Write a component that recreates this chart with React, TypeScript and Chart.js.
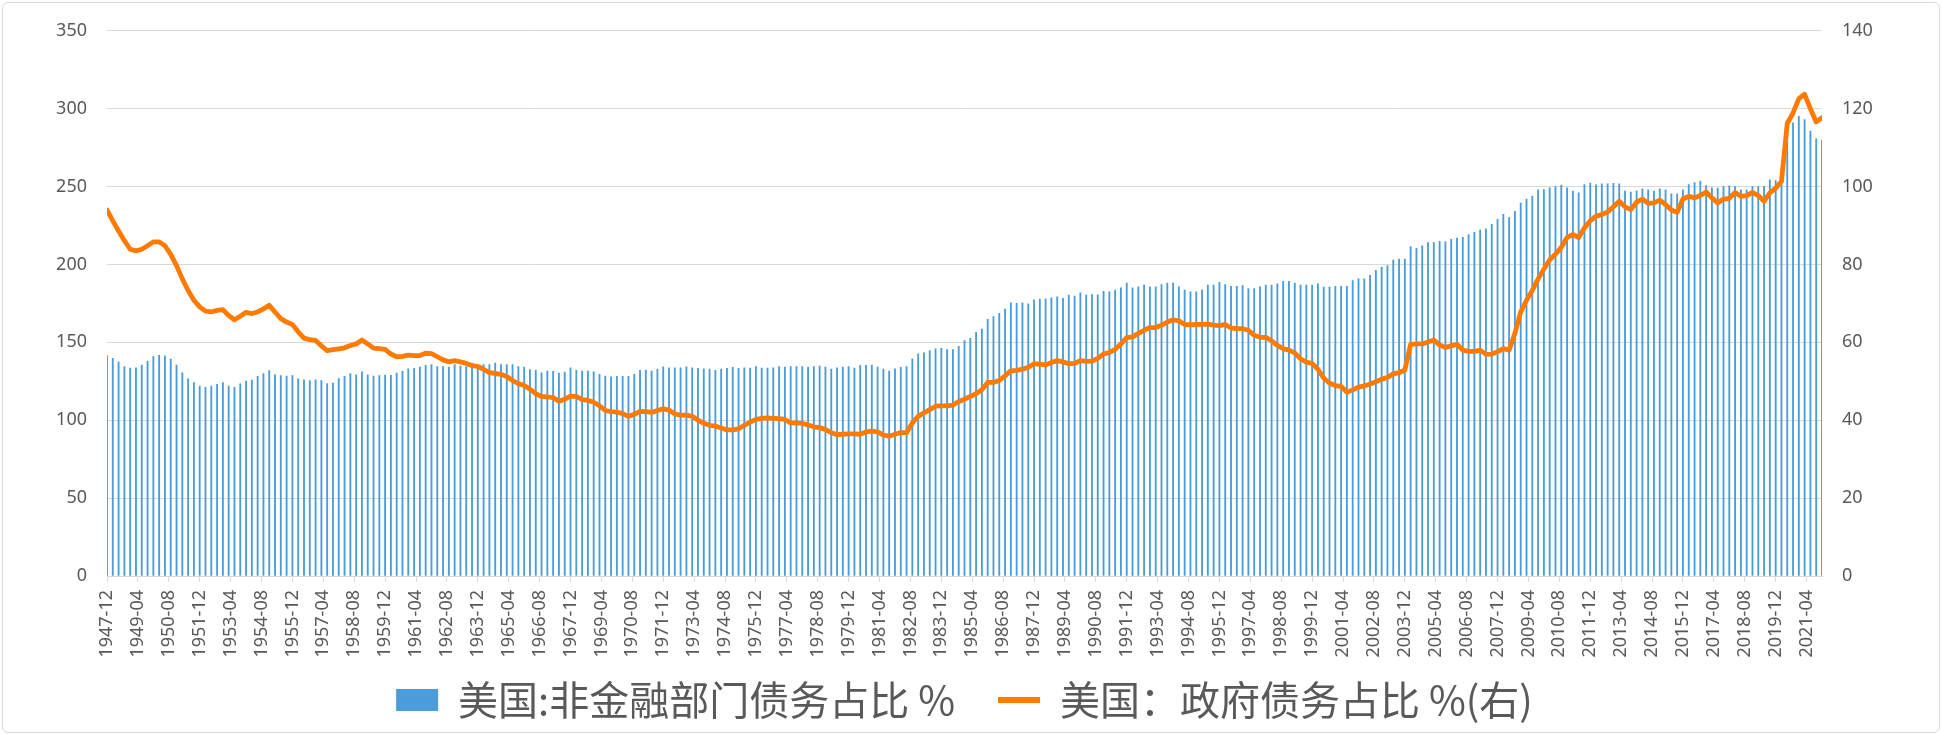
import React, { useEffect, useRef } from 'react';
import { Chart, registerables } from 'chart.js';

Chart.register(...registerables);

// 美国:非金融部门债务占比 % (left axis), quarterly from 1947-12 to 2021-12
const nonFinancialDebt = [
  141.5, 139.8, 137.3, 134.5, 133.5, 133.7, 135.4, 137.9, 140.9, 141.7,
  141.3, 139.2, 135.4, 130.5, 126.5, 124.2, 122.0, 121.2, 122.0, 123.1,
  124.2, 122.0, 121.2, 123.3, 125.2, 125.8, 128.2, 129.9, 131.8, 129.2,
  128.6, 128.4, 128.6, 126.5, 126.0, 125.4, 126.0, 125.4, 123.5, 123.9,
  126.7, 128.2, 129.9, 129.1, 131.1, 129.1, 128.4, 128.6, 129.0, 128.8,
  130.3, 131.4, 133.0, 133.3, 134.1, 135.2, 135.8, 134.5, 134.5, 134.1,
  135.8, 135.0, 134.5, 136.7, 135.6, 135.8, 135.8, 136.7, 135.8, 135.8,
  135.8, 134.5, 134.1, 132.5, 132.2, 130.5, 131.6, 131.4, 130.3, 130.9,
  133.7, 132.0, 131.6, 131.6, 131.1, 129.4, 128.4, 127.8, 128.2, 128.2,
  128.2, 129.4, 132.0, 132.2, 131.6, 132.8, 134.3, 133.7, 133.7, 133.7,
  134.3, 133.7, 133.3, 133.0, 132.8, 132.0, 132.8, 133.3, 133.9, 133.3,
  133.7, 133.5, 134.5, 133.5, 133.5, 133.7, 134.5, 134.1, 134.5, 134.5,
  134.5, 134.1, 134.5, 134.8, 134.1, 132.8, 133.7, 134.1, 134.5, 133.5,
  135.2, 135.2, 135.4, 134.1, 132.8, 131.6, 133.0, 133.9, 134.5, 139.4,
  142.6, 143.2, 144.7, 145.8, 146.2, 145.4, 145.4, 147.5, 151.1, 152.5,
  156.4, 158.5, 164.8, 166.5, 168.6, 171.4, 175.4, 175.0, 175.4, 174.8,
  177.3, 177.8, 178.0, 178.6, 179.2, 178.2, 180.3, 179.7, 181.8, 180.3,
  180.7, 180.5, 182.8, 182.4, 183.5, 185.0, 188.1, 185.0, 185.6, 186.7,
  185.6, 185.6, 187.1, 188.1, 188.1, 185.6, 183.5, 182.4, 182.4, 183.7,
  186.7, 186.7, 188.6, 187.1, 186.0, 186.0, 186.4, 184.5, 184.5, 185.6,
  186.7, 186.7, 187.5, 189.2, 189.2, 188.1, 186.7, 186.7, 186.7, 187.5,
  185.4, 185.4, 186.0, 186.0, 186.0, 189.6, 190.7, 190.7, 193.0, 196.2,
  198.3, 199.2, 202.8, 203.4, 203.4, 211.4, 210.4, 211.9, 214.0, 214.0,
  214.8, 214.6, 216.1, 216.9, 217.4, 219.1, 220.6, 222.0, 222.9, 225.8,
  229.0, 232.2, 230.1, 234.1, 239.4, 242.0, 243.9, 247.9, 248.1, 249.2,
  250.0, 250.9, 249.2, 247.1, 246.0, 251.3, 252.3, 251.1, 251.7, 251.7,
  252.1, 251.7, 247.1, 246.4, 247.3, 248.5, 247.9, 247.1, 248.5, 247.9,
  245.3, 245.3, 247.9, 251.3, 252.5, 253.6, 250.6, 249.2, 249.0, 250.2,
  250.4, 250.0, 247.9, 247.9, 250.0, 250.0, 250.2, 254.4, 253.8, 252.8,
  289.0, 290.9, 295.1, 293.0, 285.6, 280.7, 279.7,
];

// 美国：政府债务占比 %(右) (right axis), same quarters
const governmentDebt = [
  94.0, 91.2, 88.6, 86.1, 83.9, 83.5, 83.9, 84.8, 85.8, 85.8,
  84.8, 82.6, 79.7, 76.3, 73.3, 70.8, 69.1, 68.0, 67.8, 68.2,
  68.4, 66.9, 65.8, 66.7, 67.7, 67.4, 67.8, 68.6, 69.5, 67.8,
  66.1, 65.2, 64.6, 62.7, 61.1, 60.7, 60.5, 59.1, 57.9, 58.1,
  58.3, 58.6, 59.2, 59.6, 60.6, 59.6, 58.5, 58.4, 58.2, 57.0,
  56.3, 56.4, 56.7, 56.6, 56.6, 57.2, 57.1, 56.3, 55.5, 55.0,
  55.3, 55.0, 54.6, 54.0, 53.8, 53.1, 52.2, 52.0, 51.8, 51.2,
  50.2, 49.4, 48.9, 48.0, 46.8, 46.1, 46.0, 45.8, 44.9, 45.4,
  46.2, 46.1, 45.3, 45.1, 44.6, 43.7, 42.5, 42.2, 42.1, 41.7,
  41.0, 41.5, 42.3, 42.2, 42.0, 42.5, 42.9, 42.6, 41.6, 41.3,
  41.3, 41.0, 40.0, 39.2, 38.7, 38.5, 38.0, 37.5, 37.5, 37.8,
  38.7, 39.5, 40.2, 40.5, 40.6, 40.5, 40.4, 40.2, 39.3, 39.3,
  39.2, 38.8, 38.3, 38.1, 37.6, 36.8, 36.3, 36.4, 36.5, 36.5,
  36.4, 37.0, 37.2, 37.0, 36.2, 35.9, 36.4, 36.8, 36.8, 39.3,
  41.0, 41.9, 42.7, 43.6, 43.7, 43.7, 43.9, 44.8, 45.4, 46.1,
  46.8, 47.8, 49.7, 49.7, 50.2, 51.4, 52.7, 52.8, 53.1, 53.6,
  54.5, 54.4, 54.2, 54.8, 55.3, 55.0, 54.5, 54.6, 55.3, 55.1,
  55.2, 55.9, 57.0, 57.4, 58.2, 59.6, 61.2, 61.4, 62.3, 63.1,
  63.8, 63.8, 64.4, 65.2, 65.8, 65.5, 64.6, 64.5, 64.6, 64.6,
  64.7, 64.4, 64.3, 64.6, 63.7, 63.5, 63.5, 63.1, 61.8, 61.3,
  61.3, 60.4, 59.2, 58.4, 58.0, 57.3, 55.8, 54.9, 54.6, 53.1,
  50.8, 49.5, 48.9, 48.7, 47.2, 47.8, 48.5, 48.8, 49.3, 49.9,
  50.5, 51.0, 51.9, 52.2, 52.9, 59.5, 59.6, 59.6, 60.1, 60.6,
  59.3, 58.7, 59.1, 59.5, 58.0, 57.7, 57.7, 58.0, 56.9, 57.0,
  57.6, 58.4, 58.0, 62.3, 67.8, 70.8, 73.3, 76.3, 78.8, 81.2,
  82.6, 84.4, 86.9, 87.7, 86.9, 89.4, 91.2, 92.4, 92.8, 93.5,
  94.8, 96.2, 94.8, 94.1, 96.0, 96.8, 95.7, 95.8, 96.5, 95.4,
  94.0, 93.4, 96.8, 97.5, 97.1, 97.7, 98.6, 97.1, 95.8, 96.8,
  97.0, 98.5, 97.5, 97.7, 98.5, 97.7, 96.2, 98.4, 99.6, 101.3,
  116.2, 118.9, 122.6, 123.7, 120.0, 116.6, 117.7,
];

// x-axis tick labels, one every 16 months starting at 1947-12
const tickLabels = [
  '1947-12', '1949-04', '1950-08', '1951-12', '1953-04', '1954-08', '1955-12',
  '1957-04', '1958-08', '1959-12', '1961-04', '1962-08', '1963-12', '1965-04',
  '1966-08', '1967-12', '1969-04', '1970-08', '1971-12', '1973-04', '1974-08',
  '1975-12', '1977-04', '1978-08', '1979-12', '1981-04', '1982-08', '1983-12',
  '1985-04', '1986-08', '1987-12', '1989-04', '1990-08', '1991-12', '1993-04',
  '1994-08', '1995-12', '1997-04', '1998-08', '1999-12', '2001-04', '2002-08',
  '2003-12', '2005-04', '2006-08', '2007-12', '2009-04', '2010-08', '2011-12',
  '2013-04', '2014-08', '2015-12', '2017-04', '2018-08', '2019-12', '2021-04',
];

const seriesNames = ['美国:非金融部门债务占比 %', '美国：政府债务占比 %(右)'];

const MONTHS_PER_QUARTER = 3;
const TICK_STEP_MONTHS = 16;
const LAST_MONTH = (nonFinancialDebt.length - 1) * MONTHS_PER_QUARTER;

const BAR_COLOR = '#4A9DDA';
const LINE_COLOR = '#FF7A00';
const TEXT_COLOR = '#595959';
const GRID_COLOR = '#D9D9D9';
const TICK_FONT = { family: '"Noto Sans", sans-serif', size: 18 };

export default function App() {
  const canvasRef = useRef<HTMLCanvasElement>(null);

  useEffect(() => {
    const canvas = canvasRef.current;
    if (!canvas) return;
    const barPoints = nonFinancialDebt.map((v, i) => ({ x: i * MONTHS_PER_QUARTER, y: v }));
    const linePoints = governmentDebt.map((v, i) => ({ x: i * MONTHS_PER_QUARTER, y: v }));

    const chart = new Chart(canvas, {
      type: 'bar',
      data: {
        datasets: [
          {
            type: 'bar',
            label: seriesNames[0],
            data: barPoints,
            backgroundColor: BAR_COLOR,
            borderWidth: 0,
            barThickness: 1.2,
            yAxisID: 'y',
            order: 2,
          },
          {
            type: 'line',
            label: seriesNames[1],
            data: linePoints,
            borderColor: LINE_COLOR,
            backgroundColor: LINE_COLOR,
            borderWidth: 4.8,
            pointRadius: 0,
            pointHoverRadius: 0,
            tension: 0,
            borderJoinStyle: 'round',
            borderCapStyle: 'round',
            yAxisID: 'y1',
            order: 1,
          },
        ],
      } as any,
      options: {
        responsive: false,
        maintainAspectRatio: false,
        animation: false,
        layout: { padding: { left: 7, right: 20, top: 27, bottom: 4 } },
        plugins: {
          tooltip: { enabled: false },
          legend: {
            position: 'bottom',
            labels: {
              usePointStyle: true,
              pointStyleWidth: 42,
              boxHeight: 22,
              padding: 43,
              color: TEXT_COLOR,
              font: { family: '"Noto Sans CJK SC", sans-serif', size: 40 },
              sort: (a: any, b: any) => a.datasetIndex - b.datasetIndex,
              generateLabels: (c: any) => {
                const items = (Chart.defaults.plugins.legend.labels as any).generateLabels(c);
                return items.map((it: any) =>
                  it.datasetIndex === 1
                    ? { ...it, pointStyle: 'line', lineWidth: 6, strokeStyle: LINE_COLOR, fillStyle: LINE_COLOR, lineCap: 'butt', fontColor: TEXT_COLOR }
                    : { ...it, pointStyle: 'rect', lineWidth: 0, fillStyle: BAR_COLOR, strokeStyle: BAR_COLOR, fontColor: TEXT_COLOR }
                );
              },
            },
          },
        },
        scales: {
          x: {
            type: 'linear',
            min: 0,
            max: LAST_MONTH,
            offset: false,
            grid: {
              display: true,
              drawOnChartArea: false,
              drawTicks: true,
              tickLength: 6,
              color: GRID_COLOR,
              offset: false,
            },
            border: { display: true, color: GRID_COLOR },
            ticks: {
              autoSkip: false,
              minRotation: 90,
              maxRotation: 90,
              padding: 8,
              color: TEXT_COLOR,
              font: TICK_FONT,
              callback: (v: any) => tickLabels[Math.round(Number(v) / TICK_STEP_MONTHS)] ?? '',
            },
            afterBuildTicks: (s: any) => {
              s.ticks = tickLabels.map((_, k) => ({ value: k * TICK_STEP_MONTHS }));
            },
            afterFit: (s: any) => {
              s.height = 61;
              // let the rotated labels extend below the axis box (into the legend's top padding)
              s._computeLabelArea = () => undefined;
            },
          },
          y: {
            position: 'left',
            min: 0,
            max: 350,
            ticks: { stepSize: 50, padding: 20, color: TEXT_COLOR, font: TICK_FONT },
            grid: { color: GRID_COLOR, drawTicks: false, lineWidth: 1 },
            border: { display: false },
            afterFit: (s: any) => {
              s.width = 100;
            },
          },
          y1: {
            position: 'right',
            min: 0,
            max: 140,
            ticks: { stepSize: 20, padding: 20, color: TEXT_COLOR, font: TICK_FONT },
            grid: { drawOnChartArea: false, drawTicks: false },
            border: { display: false },
            afterFit: (s: any) => {
              s.width = 100;
            },
          },
        },
      } as any,
    });
    return () => chart.destroy();
  }, []);

  return (
    <div style={{ position: 'fixed', left: 0, top: 0, width: 1942, height: 734, background: '#fff' }}>
      <canvas ref={canvasRef} width={1942} height={734} style={{ position: 'absolute', left: 0, top: 0, width: 1942, height: 734 }} />
      <div
        style={{
          position: 'absolute',
          left: 2,
          top: 2,
          width: 1938,
          height: 731,
          boxSizing: 'border-box',
          border: '1px solid #D9D9D9',
          borderRadius: 6,
          pointerEvents: 'none',
        }}
      />
    </div>
  );
}
